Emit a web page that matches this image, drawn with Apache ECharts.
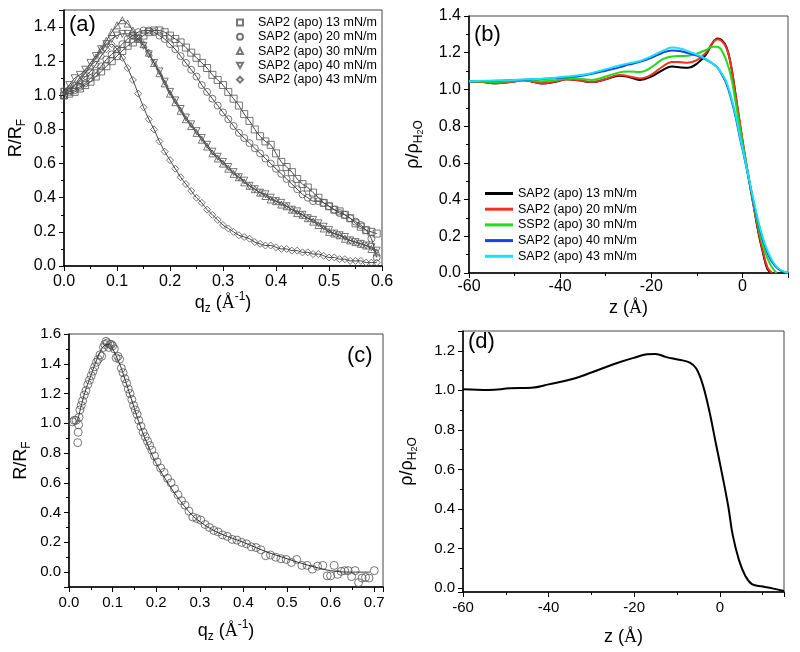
<!DOCTYPE html>
<html>
<head>
<meta charset="utf-8">
<title>SAP2 (apo) reflectivity and electron density</title>
<script src="https://cdn.jsdelivr.net/npm/echarts@6/dist/echarts.min.js"></script>
<style>
  html, body { margin: 0; padding: 0; background: #fff; }
  #chart { width: 800px; height: 652px; }
</style>
</head>
<body>
<div id="chart"></div>
<script>
// ---- (a) normalised reflectivity, five surface pressures ----
const namesA = ["SAP2 (apo) 13 mN/m", "SAP2 (apo) 20 mN/m", "SAP2 (apo) 30 mN/m", "SAP2 (apo) 40 mN/m", "SAP2 (apo) 43 mN/m"];
const qA = [0.00, 0.01, 0.02, 0.03, 0.04, 0.05, 0.06, 0.07, 0.08, 0.09,
            0.10, 0.11, 0.12, 0.13, 0.14, 0.15, 0.16, 0.17, 0.18, 0.19,
            0.20, 0.21, 0.22, 0.23, 0.24, 0.25, 0.26, 0.27, 0.28, 0.29,
            0.30, 0.31, 0.32, 0.33, 0.34, 0.35, 0.36, 0.37, 0.38, 0.39,
            0.40, 0.41, 0.42, 0.43, 0.44, 0.45, 0.46, 0.47, 0.48, 0.49,
            0.50, 0.51, 0.52, 0.53, 0.54, 0.55, 0.56, 0.57, 0.58, 0.59];
const rA13 = [1.00, 1.01, 1.02, 1.04, 1.06, 1.08, 1.11, 1.14, 1.17, 1.20,
              1.23, 1.26, 1.29, 1.31, 1.33, 1.35, 1.37, 1.38, 1.38, 1.37,
              1.35, 1.33, 1.31, 1.28, 1.25, 1.22, 1.19, 1.16, 1.12, 1.09,
              1.06, 1.02, 0.98, 0.94, 0.89, 0.85, 0.80, 0.76, 0.73, 0.71,
              0.66, 0.61, 0.58, 0.55, 0.51, 0.48, 0.46, 0.43, 0.40, 0.37,
              0.35, 0.33, 0.32, 0.30, 0.28, 0.25, 0.23, 0.21, 0.20, 0.19];
const rA20 = [1.00, 1.02, 1.03, 1.05, 1.07, 1.10, 1.13, 1.17, 1.21, 1.24,
              1.27, 1.30, 1.33, 1.35, 1.37, 1.38, 1.38, 1.37, 1.35, 1.33,
              1.30, 1.27, 1.23, 1.19, 1.15, 1.11, 1.06, 1.02, 0.98, 0.94,
              0.90, 0.86, 0.82, 0.78, 0.75, 0.72, 0.69, 0.66, 0.63, 0.60,
              0.57, 0.54, 0.51, 0.48, 0.45, 0.42, 0.40, 0.38, 0.38, 0.37,
              0.35, 0.33, 0.31, 0.30, 0.28, 0.26, 0.24, 0.21, 0.16, 0.05];
const rA30 = [1.00, 1.03, 1.06, 1.09, 1.13, 1.17, 1.22, 1.27, 1.32, 1.37,
              1.41, 1.44, 1.42, 1.38, 1.34, 1.30, 1.25, 1.19, 1.13, 1.07,
              1.01, 0.96, 0.91, 0.86, 0.82, 0.78, 0.74, 0.70, 0.66, 0.63,
              0.60, 0.57, 0.54, 0.52, 0.49, 0.47, 0.45, 0.43, 0.41, 0.39,
              0.38, 0.36, 0.35, 0.33, 0.31, 0.30, 0.28, 0.26, 0.24, 0.22,
              0.20, 0.19, 0.18, 0.16, 0.15, 0.14, 0.13, 0.12, 0.10, 0.08];
const rA40 = [1.02, 1.06, 1.10, 1.12, 1.15, 1.19, 1.23, 1.27, 1.30, 1.33,
              1.35, 1.36, 1.36, 1.35, 1.33, 1.29, 1.24, 1.19, 1.14, 1.08,
              1.02, 0.97, 0.92, 0.87, 0.83, 0.79, 0.75, 0.71, 0.67, 0.64,
              0.61, 0.58, 0.55, 0.52, 0.50, 0.47, 0.45, 0.43, 0.42, 0.40,
              0.38, 0.37, 0.35, 0.33, 0.32, 0.30, 0.28, 0.27, 0.25, 0.23,
              0.21, 0.19, 0.18, 0.17, 0.15, 0.14, 0.13, 0.12, 0.11, 0.09];
const rA43 = [1.03, 1.04, 1.06, 1.08, 1.11, 1.14, 1.18, 1.23, 1.27, 1.30,
              1.27, 1.22, 1.16, 1.09, 1.01, 0.93, 0.86, 0.80, 0.73, 0.67,
              0.62, 0.57, 0.52, 0.48, 0.44, 0.40, 0.37, 0.33, 0.30, 0.27,
              0.24, 0.22, 0.20, 0.18, 0.17, 0.16, 0.14, 0.13, 0.12, 0.12,
              0.11, 0.10, 0.10, 0.09, 0.09, 0.08, 0.08, 0.07, 0.07, 0.06,
              0.05, 0.05, 0.04, 0.04, 0.03, 0.03, 0.03, 0.02, 0.02, 0.02];

// ---- (b) density profiles ----
const namesB = ["SAP2 (apo) 13 mN/m", "SAP2 (apo) 20 mN/m", "SSP2 (apo) 30 mN/m", "SAP2 (apo) 40 mN/m", "SAP2 (apo) 43 mN/m"];
const zB = [-60, -57, -54, -51, -48, -46, -44, -41, -38.5, -36, -33, -30, -27, -25, -22.5, -20, -17.5, -15.5, -13.5, -12,
            -10, -8, -6.5, -5.5, -4.5, -3.5, -2.5, -1.5, -0.5, 0.5, 1.5, 2.5, 3.5, 4.5, 5.5, 6.5, 7.5, 8.5, 10];
const rhoB13 = [1.045, 1.040, 1.033, 1.040, 1.050, 1.042, 1.032, 1.042, 1.055, 1.050, 1.040, 1.055, 1.075, 1.068, 1.052, 1.070, 1.105, 1.125, 1.120, 1.118,
                1.140, 1.190, 1.255, 1.278, 1.268, 1.230, 1.130, 0.970, 0.800, 0.640, 0.500, 0.360, 0.220, 0.110, 0.020, 0.000, null, null, null];
const rhoB20 = [1.045, 1.040, 1.033, 1.040, 1.050, 1.042, 1.032, 1.043, 1.056, 1.050, 1.040, 1.057, 1.078, 1.072, 1.060, 1.080, 1.125, 1.150, 1.148, 1.146,
                1.160, 1.200, 1.255, 1.273, 1.262, 1.225, 1.130, 0.970, 0.810, 0.650, 0.500, 0.360, 0.230, 0.120, 0.030, 0.000, null, null, null];
const rhoB30 = [1.045, 1.043, 1.040, 1.045, 1.050, 1.048, 1.045, 1.050, 1.060, 1.058, 1.052, 1.070, 1.093, 1.097, 1.095, 1.120, 1.165, 1.180, 1.182, 1.183,
                1.195, 1.215, 1.232, 1.232, 1.210, 1.155, 1.070, 0.930, 0.780, 0.640, 0.500, 0.370, 0.250, 0.150, 0.080, 0.030, 0.000, null, null];
const rhoB40 = [1.045, 1.046, 1.047, 1.050, 1.053, 1.055, 1.057, 1.062, 1.066, 1.072, 1.085, 1.102, 1.120, 1.135, 1.150, 1.172, 1.200, 1.212, 1.208, 1.198,
                1.185, 1.163, 1.140, 1.120, 1.080, 1.030, 0.950, 0.850, 0.730, 0.620, 0.500, 0.380, 0.270, 0.180, 0.110, 0.060, 0.030, 0.012, 0.000];
const rhoB43 = [1.045, 1.047, 1.048, 1.050, 1.054, 1.056, 1.058, 1.064, 1.070, 1.077, 1.090, 1.110, 1.130, 1.142, 1.155, 1.180, 1.210, 1.228, 1.222, 1.208,
                1.190, 1.165, 1.140, 1.120, 1.085, 1.040, 0.960, 0.860, 0.740, 0.625, 0.505, 0.390, 0.280, 0.190, 0.120, 0.070, 0.035, 0.015, 0.000];
const colorsB = ["#000000", "#f2301e", "#1fdc1f", "#1f3ee6", "#12e4f5"];

// ---- (c) single reflectivity curve with fit ----
const qC = [0.008, 0.012, 0.016, 0.020, 0.021, 0.022, 0.023, 0.025, 0.028, 0.031, 0.035, 0.039, 0.043, 0.047, 0.051, 0.055, 0.059, 0.063, 0.067, 0.071,
            0.075, 0.079, 0.082, 0.085, 0.088, 0.091, 0.094, 0.097, 0.100, 0.104, 0.108, 0.112, 0.116, 0.120, 0.124, 0.128, 0.132, 0.136, 0.140, 0.144,
            0.148, 0.152, 0.156, 0.160, 0.165, 0.170, 0.175, 0.180, 0.185, 0.190, 0.196, 0.202, 0.210, 0.218, 0.226, 0.234, 0.242, 0.250, 0.258, 0.266,
            0.275, 0.284, 0.293, 0.302, 0.312, 0.322, 0.332, 0.342, 0.352, 0.363, 0.374, 0.385, 0.396, 0.407, 0.418, 0.429, 0.440, 0.451, 0.462, 0.474,
            0.486, 0.498, 0.510, 0.522, 0.534, 0.546, 0.558, 0.570, 0.582, 0.592, 0.600, 0.608, 0.616, 0.624, 0.632, 0.640, 0.648, 0.656, 0.664, 0.672,
            0.680, 0.688, 0.700];
const rC = [1.01, 1.02, 1.02, 0.87, 0.94, 0.99, 1.04, 1.09, 1.12, 1.15, 1.19, 1.22, 1.26, 1.29, 1.32, 1.35, 1.38, 1.41, 1.43, 1.46,
            1.45, 1.51, 1.53, 1.55, 1.54, 1.51, 1.53, 1.53, 1.52, 1.50, 1.44, 1.45, 1.43, 1.37, 1.34, 1.30, 1.27, 1.23, 1.20, 1.16,
            1.12, 1.09, 1.06, 1.02, 0.98, 0.94, 0.91, 0.88, 0.85, 0.82, 0.78, 0.74, 0.70, 0.67, 0.63, 0.60, 0.56, 0.52, 0.48, 0.45,
            0.41, 0.37, 0.36, 0.35, 0.32, 0.30, 0.28, 0.27, 0.25, 0.24, 0.22, 0.215, 0.20, 0.19, 0.17, 0.165, 0.15, 0.11, 0.115, 0.10,
            0.09, 0.085, 0.065, 0.085, 0.045, 0.045, 0.02, 0.04, 0.045, -0.025, -0.025, 0.045, -0.015, 0.005, 0.01, 0.01, -0.03, 0.01, -0.07, -0.04,
            -0.035, -0.04, 0.01];
const qCFit = [0.02, 0.03, 0.04, 0.05, 0.06, 0.07, 0.08, 0.09, 0.10, 0.11, 0.12, 0.13, 0.14, 0.15, 0.16, 0.17, 0.18, 0.19, 0.20,
               0.22, 0.24, 0.26, 0.28, 0.30, 0.32, 0.35, 0.40, 0.45, 0.50, 0.55, 0.60, 0.65, 0.69];
const rCFit = [1.02, 1.14, 1.24, 1.32, 1.40, 1.47, 1.52, 1.53, 1.50, 1.44, 1.37, 1.28, 1.19, 1.10, 1.01, 0.93, 0.86, 0.79, 0.73,
               0.63, 0.54, 0.46, 0.39, 0.34, 0.30, 0.255, 0.20, 0.14, 0.09, 0.045, 0.01, 0.0, 0.0];

// ---- (d) single density profile ----
const zD = [-60, -54, -49, -44, -40, -34, -30, -24, -20, -17, -15, -12.5, -9.5, -7, -5.5, -4, -2.5, -1, 0.5, 2, 3, 4.5, 6, 7.5, 10, 12.5, 15];
const rhoD = [1.006, 1.002, 1.010, 1.013, 1.030, 1.060, 1.090, 1.138, 1.165, 1.182, 1.184, 1.168, 1.155, 1.140, 1.110, 1.030, 0.900, 0.740, 0.580,
              0.410, 0.270, 0.140, 0.060, 0.020, 0.008, -0.003, -0.015];

const FONT = "Liberation Sans, Arial, sans-serif";

const nameRich = {
  sub: { fontSize: 12, lineHeight: 12, verticalAlign: "bottom", fontFamily: FONT, color: "#000" },
  sub2: { fontSize: 9, lineHeight: 9, verticalAlign: "bottom", fontFamily: FONT, color: "#000" },
  sup: { fontSize: 12, lineHeight: 12, verticalAlign: "top", fontFamily: FONT, color: "#000" },
  ang: { fontSize: 18, fontFamily: "Liberation Serif, serif", color: "#000" }
};

function pairs(xs, ys) {
  return xs.map((x, i) => [x, ys[i]]);
}

// label only the multiples of step
function stepLabel(step, digits) {
  return function (v) {
    const k = v / step;
    return Math.abs(k - Math.round(k)) < 1e-6 ? v.toFixed(digits) : "";
  };
}

function axis(grid, min, max, step, digits, fontSize, name, gap, margin) {
  return {
    type: "value",
    gridIndex: grid,
    min: min,
    max: max,
    splitNumber: Math.round((max - min) / step),
    name: name,
    nameLocation: "middle",
    nameGap: gap,
    nameTextStyle: { fontSize: 18, lineHeight: 24, fontFamily: FONT, color: "#000", rich: nameRich },
    axisLine: { show: true, onZero: false, lineStyle: { color: "#000", width: 1.5 } },
    axisTick: { show: true, inside: false, length: 5, lineStyle: { color: "#000", width: 1 } },
    minorTick: { show: true, splitNumber: 2, length: 3, lineStyle: { color: "#000", width: 1 } },
    splitLine: { show: false },
    axisLabel: { color: "#000", fontSize: fontSize, fontFamily: FONT, margin: margin, formatter: stepLabel(step, digits) }
  };
}

const grids = [
  { left: 64, top: 10, width: 318, height: 256 },
  { left: 469, top: 16, width: 319, height: 257 },
  { left: 69, top: 334, width: 314, height: 253 },
  { left: 463, top: 331, width: 321, height: 261 }
].map(g => Object.assign(g, { show: true, borderColor: "#444", borderWidth: 1, backgroundColor: "#fff" }));

const qName = "q{sub|z} ({ang|Å}{sup|-1})";
const zName = "z ({ang|Å})";
const rName = "R/R{sub|F}";
const rhoName = "ρ/ρ{sub|H}{sub2|2}{sub|O}";

const xAxes = [
  axis(0, 0, 0.6, 0.1, 1, 16, qName, 22, 8),
  axis(1, -60, 10, 20, 0, 16, zName, 22, 6),
  axis(2, 0, 0.72, 0.1, 1, 15, qName, 32, 8),
  axis(3, -60, 15, 20, 0, 15, zName, 33, 8)
];
const yAxes = [
  axis(0, 0, 1.5, 0.2, 1, 16, rName, 36, 8),
  axis(1, 0, 1.4, 0.2, 1, 16, rhoName, 44, 8),
  axis(2, -0.1, 1.6, 0.2, 1, 15, rName, 36, 8),
  axis(3, -0.02, 1.3, 0.2, 1, 15, rhoName, 44, 8)
];

const symbolsA = ["rect", "circle", "triangle", "path://M0,0L10,0L5,8.66Z", "diamond"];
const rA = [rA13, rA20, rA30, rA40, rA43];
const rhoB = [rhoB13, rhoB20, rhoB30, rhoB40, rhoB43];

const series = [];

// (a) fit lines, then the data points
rA.forEach((r, i) => {
  series.push({
    name: "fitA" + i, type: "line", xAxisIndex: 0, yAxisIndex: 0,
    data: pairs(qA, r), smooth: 0.3, symbol: "none", silent: true,
    lineStyle: { color: "#444", width: 1 }, z: 2
  });
});
rA.forEach((r, i) => {
  series.push({
    name: namesA[i], type: "scatter", xAxisIndex: 0, yAxisIndex: 0,
    data: pairs(qA, r), symbol: symbolsA[i], symbolSize: 7,
    itemStyle: { color: "rgba(255,255,255,0)", borderColor: "#555", borderWidth: 1 }, z: 3
  });
});

// (b) profiles
rhoB.forEach((r, i) => {
  series.push({
    name: "b" + i, type: "line", xAxisIndex: 1, yAxisIndex: 1,
    data: pairs(zB, r), smooth: 0.4, symbol: "none",
    lineStyle: { color: colorsB[i], width: 2 }, itemStyle: { color: colorsB[i] }
  });
});

// (c)
series.push({
  name: "fitC", type: "line", xAxisIndex: 2, yAxisIndex: 2,
  data: pairs(qCFit, rCFit), smooth: 0.4, symbol: "none", silent: true,
  lineStyle: { color: "#333", width: 1 }
});
series.push({
  name: "dataC", type: "scatter", xAxisIndex: 2, yAxisIndex: 2,
  data: pairs(qC, rC), symbol: "circle", symbolSize: 8,
  itemStyle: { color: "rgba(255,255,255,0)", borderColor: "#555", borderWidth: 1 }
});

// (d)
series.push({
  name: "profileD", type: "line", xAxisIndex: 3, yAxisIndex: 3,
  data: pairs(zD, rhoD), smooth: 0.4, symbol: "none",
  lineStyle: { color: "#000", width: 2 }
});

function panelLabel(text, left, top) {
  return { type: "text", left: left, top: top, style: { text: text, font: "22px " + FONT, fill: "#000" } };
}

const option = {
  backgroundColor: "#fff",
  animation: false,
  grid: grids,
  xAxis: xAxes,
  yAxis: yAxes,
  legend: [
    {
      data: namesA, orient: "vertical", left: 231, top: 11, itemWidth: 6, itemHeight: 6, itemGap: 1.3,
      selectedMode: false,
      textStyle: { fontSize: 12.5, fontFamily: FONT, color: "#000", padding: [0, 0, 0, 10] }
    },
    {
      data: ["b0", "b1", "b2", "b3", "b4"], orient: "vertical", left: 480, top: 182,
      icon: "rect", itemWidth: 28, itemHeight: 3, itemGap: 2.7, selectedMode: false,
      formatter: name => namesB[Number(name.slice(1))],
      textStyle: { fontSize: 12.5, fontFamily: FONT, color: "#000" }
    }
  ],
  graphic: [
    panelLabel("(a)", 69, 14),
    panelLabel("(b)", 474, 24),
    panelLabel("(c)", 347, 345),
    panelLabel("(d)", 468, 331)
  ],
  series: series
};

const chart = echarts.init(document.getElementById("chart"));
chart.setOption(option);
window.addEventListener("resize", () => chart.resize());
</script>
</body>
</html>
